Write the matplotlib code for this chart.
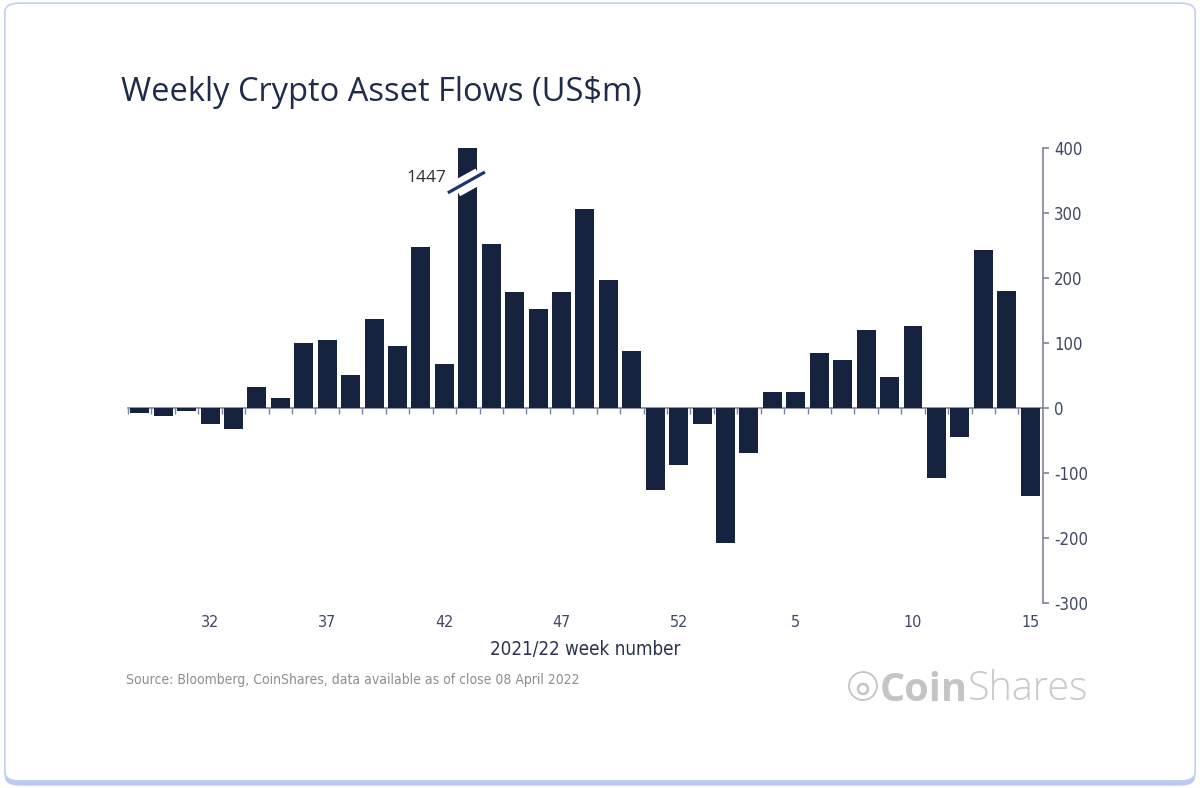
import matplotlib
matplotlib.use('Agg')
import matplotlib.pyplot as plt
from matplotlib.patches import FancyBboxPatch, Circle
from matplotlib.text import Annotation

# weekly flows, week 29 of 2021 to week 15 of 2022 (US$m)
weeks = list(range(29, 53)) + list(range(1, 16))
flows = [-8, -13, -5, -25, -32, 32, 15, 100, 105, 50, 137, 96, 247, 68, 1447,
         252, 178, 152, 178, 306, 197, 88, -126, -88, -25, -207, -69, 25, 25,
         85, 74, 120, 48, 126, -107, -45, 243, 180, -135]
label_weeks = [32, 37, 42, 47, 52, 5, 10, 15]
y_ticks = [400, 300, 200, 100, 0, -100, -200, -300]

navy = '#15233f'
axis_grey = '#7d8498'
label_col = '#3f4763'
narrow = ['DejaVu Sans']
sans = ['Open Sans', 'DejaVu Sans']

fig = plt.figure(figsize=(12, 7.88), dpi=100)
fig.patch.set_facecolor('white')

# rounded card border
shadow = FancyBboxPatch((0.004, 0.003), 0.992, 0.992, boxstyle='round,pad=0,rounding_size=0.012',
                        transform=fig.transFigure, facecolor='#b9c9f3', edgecolor='none', zorder=-3)
card = FancyBboxPatch((0.004, 0.009), 0.992, 0.987, boxstyle='round,pad=0,rounding_size=0.012',
                      transform=fig.transFigure, facecolor='white', edgecolor='#bfcff5', linewidth=1.2, zorder=-2)
fig.patches.extend([shadow, card])

ax = fig.add_axes([0.1067, 0.2348, 0.7625, 0.5774])
ax.set_facecolor('none')
x = list(range(len(flows)))
ax.bar(x, flows, width=0.81, color=navy, zorder=2)

ax.set_xlim(-0.5, len(flows) - 0.45)
ax.set_ylim(-300, 400)

# axis break on the 1447 bar
big = flows.index(1447)
ax.plot([big - 0.5, big + 0.5], [337, 357], color='white', linewidth=12,
        solid_capstyle='butt', zorder=3, clip_on=False)
ax.plot([big - 0.85, big + 0.73], [331, 363], color='#1d3670', linewidth=2.3,
        solid_capstyle='butt', zorder=4, clip_on=False)
ax.text(big - 0.93, 354, '1447', ha='right', va='center', fontsize=12.5,
        color='#2e2e2e', family=sans)

# spines
for s in ['top', 'left']:
    ax.spines[s].set_visible(False)
ax.spines['right'].set_color(axis_grey)
ax.spines['right'].set_linewidth(1.2)
ax.spines['bottom'].set_position(('data', 0))
ax.spines['bottom'].set_color(axis_grey)
ax.spines['bottom'].set_linewidth(1.2)
ax.spines['bottom'].set_zorder(1)

# y axis on the right
ax.yaxis.tick_right()
ax.set_yticks(y_ticks)
ax.set_yticklabels([str(v) for v in y_ticks])
ax.tick_params(axis='y', length=4, width=1.2, color=axis_grey, pad=4,
               labelsize=12, labelcolor=label_col)
for t in ax.get_yticklabels():
    t.set_family(narrow)
    t.set_fontstretch('condensed')

# small ticks between bars on the zero line
ax.set_xticks([i - 0.5 for i in range(len(flows))])
ax.set_xticklabels([])
ax.tick_params(axis='x', length=4, width=1.0, color=axis_grey, direction='out')

# week labels at the bottom of the plot
sec = ax.secondary_xaxis('bottom')
sec.spines['bottom'].set_visible(False)
sec.set_xticks([weeks.index(w, 0 if w > 28 else 24) for w in label_weeks])
sec.set_xticklabels([str(w) for w in label_weeks])
sec.tick_params(axis='x', length=0, pad=9, labelsize=11.5, labelcolor=label_col)
for t in sec.get_xticklabels():
    t.set_family(narrow)
    t.set_fontstretch('condensed')
sec.set_xlabel('2021/22 week number', fontsize=13.5, color='#2a3350', labelpad=7,
               family=narrow, fontstretch='condensed')

fig.text(0.101, 0.883, 'Weekly Crypto Asset Flows (US$m)', fontsize=23.5, color='#1f2b4b',
         ha='left', va='center', family=sans)
fig.text(0.105, 0.137, 'Source: Bloomberg, CoinShares, data available as of close 08 April 2022',
         fontsize=10, color='#8e8e8e', ha='left', va='center', family=narrow,
         fontstretch='condensed')

# CoinShares wordmark
coin = fig.text(0.733, 0.124, 'Coin', fontsize=28.5, color='#c4c4c4', fontweight='bold',
                ha='left', va='center', family=sans)
fig.add_artist(Annotation('Shares', xy=(1, 0), xycoords=coin, ha='left', va='bottom',
                          fontsize=28.5, color='#c9c9c9', fontweight='light', family=sans))
fig.add_artist(Circle((8.63, 1.02), 0.14, transform=fig.dpi_scale_trans,
                      fill=False, edgecolor='#c4c4c4', linewidth=1.3))
fig.add_artist(Circle((8.63, 0.99), 0.05, transform=fig.dpi_scale_trans,
                      fill=False, edgecolor='#c4c4c4', linewidth=1.8))

fig.savefig('out.png', dpi=100, facecolor='white')
